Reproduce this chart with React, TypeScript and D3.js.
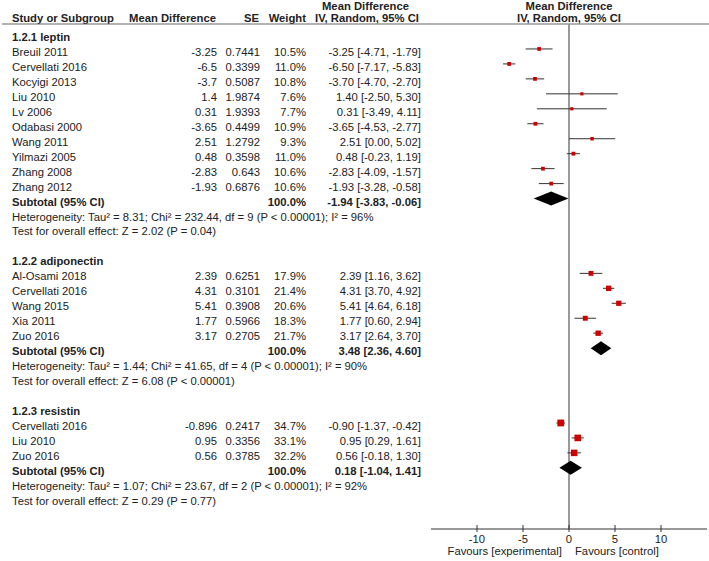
import React from "react";
import * as d3 from "d3";

const groupNames = ["1.2.1 leptin", "1.2.2 adiponectin", "1.2.3 resistin"];
const studyGroup = [0, 0, 0, 0, 0, 0, 0, 0, 0, 0, 1, 1, 1, 1, 1, 2, 2, 2];
const studyNames = [
  "Breuil 2011", "Cervellati 2016", "Kocyigi 2013", "Liu 2010", "Lv 2006",
  "Odabasi 2000", "Wang 2011", "Yilmazi 2005", "Zhang 2008", "Zhang 2012",
  "Al-Osami 2018", "Cervellati 2016", "Wang 2015", "Xia 2011", "Zuo 2016",
  "Cervellati 2016", "Liu 2010", "Zuo 2016",
];
const studyMD = [-3.25, -6.5, -3.7, 1.4, 0.31, -3.65, 2.51, 0.48, -2.83, -1.93, 2.39, 4.31, 5.41, 1.77, 3.17, -0.896, 0.95, 0.56];
const studySE = ["0.7441", "0.3399", "0.5087", "1.9874", "1.9393", "0.4499", "1.2792", "0.3598", "0.643", "0.6876", "0.6251", "0.3101", "0.3908", "0.5966", "0.2705", "0.2417", "0.3356", "0.3785"];
const studyWeight = [10.5, 11.0, 10.8, 7.6, 7.7, 10.9, 9.3, 11.0, 10.6, 10.6, 17.9, 21.4, 20.6, 18.3, 21.7, 34.7, 33.1, 32.2];
const studyLo = [-4.71, -7.17, -4.70, -2.50, -3.49, -4.53, 0.00, -0.23, -4.09, -3.28, 1.16, 3.70, 4.64, 0.60, 2.64, -1.37, 0.29, -0.18];
const studyHi = [-1.79, -5.83, -2.70, 5.30, 4.11, -2.77, 5.02, 1.19, -1.57, -0.58, 3.62, 4.92, 6.18, 2.94, 3.70, -0.42, 1.61, 1.30];

const subtotalEst = [-1.94, 3.48, 0.18];
const subtotalLo = [-3.83, 2.36, -1.04];
const subtotalHi = [-0.06, 4.60, 1.41];
const heterogeneityTexts = [
  "Heterogeneity: Tau² = 8.31; Chi² = 232.44, df = 9 (P < 0.00001); I² = 96%",
  "Heterogeneity: Tau² = 1.44; Chi² = 41.65, df = 4 (P < 0.00001); I² = 90%",
  "Heterogeneity: Tau² = 1.07; Chi² = 23.67, df = 2 (P < 0.00001); I² = 92%",
];
const overallTexts = [
  "Test for overall effect: Z = 2.02 (P = 0.04)",
  "Test for overall effect: Z = 6.08 (P < 0.00001)",
  "Test for overall effect: Z = 0.29 (P = 0.77)",
];
const axisTicks = [-10, -5, 0, 5, 10];
const axisDomain = [-15, 15];

type Row =
  | { kind: "group"; g: number }
  | { kind: "study"; s: number }
  | { kind: "subtotal"; g: number }
  | { kind: "text"; text: string }
  | { kind: "blank" };

const rows: Row[] = [];
groupNames.forEach((_, g) => {
  if (g > 0) rows.push({ kind: "blank" });
  rows.push({ kind: "group", g });
  studyNames.forEach((_, s) => {
    if (studyGroup[s] === g) rows.push({ kind: "study", s });
  });
  rows.push({ kind: "subtotal", g });
  rows.push({ kind: "text", text: heterogeneityTexts[g] });
  rows.push({ kind: "text", text: overallTexts[g] });
});

const W = 709;
const H = 561;
const FONT = "'Liberation Sans', Arial, sans-serif";
const FS = 11.25;
const TXT = "#222";

export default function App() {
  const x = d3.scaleLinear().domain(axisDomain).range([431, 707]);
  const y0 = 41;
  const dy = 14.96;
  const base = (i: number) => y0 + dy * i;
  const axisY = 529;
  const headerLineY = 24;

  const colName = 12;
  const colMD = 217;
  const colSE = 260;
  const colW = 306;
  const colCI = 421;

  const fmt2 = (v: number) => v.toFixed(2);
  const fmtCI = (est: number, lo: number, hi: number) => `${fmt2(est)} [${fmt2(lo)}, ${fmt2(hi)}]`;

  const textEls: React.ReactNode[] = [];
  const markEls: React.ReactNode[] = [];

  rows.forEach((r, i) => {
    const b = base(i);
    const my = b - 7;
    if (r.kind === "group") {
      textEls.push(
        <text key={`g${i}`} x={colName} y={b} fontWeight="bold">{groupNames[r.g]}</text>
      );
    } else if (r.kind === "study") {
      const s = r.s;
      textEls.push(
        <g key={`s${i}`}>
          <text x={colName} y={b}>{studyNames[s]}</text>
          <text x={colMD} y={b} textAnchor="end">{String(studyMD[s])}</text>
          <text x={colSE} y={b} textAnchor="end">{studySE[s]}</text>
          <text x={colW} y={b} textAnchor="end">{studyWeight[s].toFixed(1) + "%"}</text>
          <text x={colCI} y={b} textAnchor="end">{fmtCI(studyMD[s], studyLo[s], studyHi[s])}</text>
        </g>
      );
      const sz = 1.15 * Math.sqrt(studyWeight[s]);
      markEls.push(
        <g key={`m${i}`}>
          <line x1={x(studyLo[s])} x2={x(studyHi[s])} y1={my} y2={my} stroke="#333" strokeWidth={1} />
          <rect x={x(studyMD[s]) - sz / 2} y={my - sz / 2} width={sz} height={sz} fill="#cc0000" />
        </g>
      );
    } else if (r.kind === "subtotal") {
      const g = r.g;
      textEls.push(
        <g key={`t${i}`} fontWeight="bold">
          <text x={colName} y={b}>Subtotal (95% CI)</text>
          <text x={colW} y={b} textAnchor="end">100.0%</text>
          <text x={colCI} y={b} textAnchor="end">{fmtCI(subtotalEst[g], subtotalLo[g], subtotalHi[g])}</text>
        </g>
      );
      const h = 7;
      const pts = [
        [x(subtotalLo[g]), my],
        [x(subtotalEst[g]), my - h],
        [x(subtotalHi[g]), my],
        [x(subtotalEst[g]), my + h],
      ];
      markEls.push(
        <polygon key={`d${i}`} points={pts.map((p) => p.join(",")).join(" ")} fill="#000" />
      );
    } else if (r.kind === "text") {
      textEls.push(
        <text key={`x${i}`} x={colName} y={b}>{r.text}</text>
      );
    }
  });

  return (
    <svg width={W} height={H} style={{ position: "absolute", left: 0, top: 0 }} fontFamily={FONT} fontSize={FS} fill={TXT}>
      <rect x={0} y={0} width={W} height={H} fill="#fff" />
      {/* header */}
      <g fontWeight="bold">
        <text x={322} y={9.5}>Mean Difference</text>
        <text x={x(0)} y={9.5} textAnchor="middle">Mean Difference</text>
        <text x={colName} y={22}>Study or Subgroup</text>
        <text x={216} y={22} textAnchor="end">Mean Difference</text>
        <text x={259} y={22} textAnchor="end">SE</text>
        <text x={306} y={22} textAnchor="end">Weight</text>
        <text x={315} y={22}>IV, Random, 95% CI</text>
        <text x={x(0)} y={22} textAnchor="middle">IV, Random, 95% CI</text>
      </g>
      <line x1={2} x2={W} y1={headerLineY} y2={headerLineY} stroke="#666" strokeWidth={1.2} />
      {/* zero line */}
      <line x1={x(0)} x2={x(0)} y1={headerLineY} y2={axisY} stroke="#999" strokeWidth={2} />
      {textEls}
      {markEls}
      {/* axis */}
      <line x1={x(axisDomain[0])} x2={x(axisDomain[1])} y1={axisY} y2={axisY} stroke="#333" strokeWidth={1} />
      {axisTicks.map((t) => (
        <g key={`tk${t}`}>
          <line x1={x(t)} x2={x(t)} y1={axisY - 4} y2={axisY + 3} stroke="#333" strokeWidth={1} />
          <text x={x(t)} y={axisY + 14} textAnchor="middle">{String(t)}</text>
        </g>
      ))}
      <text x={x(0) - 7} y={axisY + 26} textAnchor="end">Favours [experimental]</text>
      <text x={x(0) + 6} y={axisY + 26}>Favours [control]</text>
    </svg>
  );
}
